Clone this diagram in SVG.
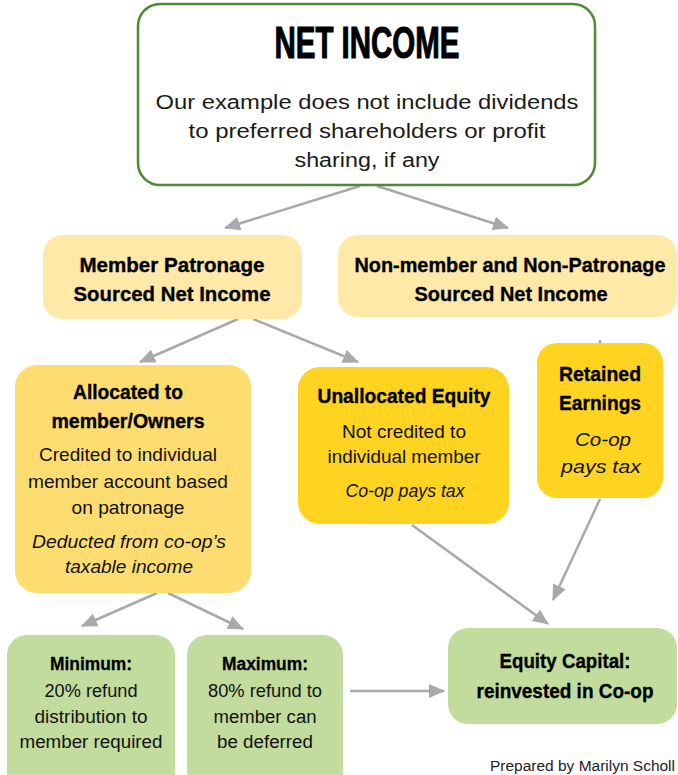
<svg xmlns="http://www.w3.org/2000/svg" width="678" height="775" viewBox="0 0 678 775">
  <defs>
    <marker id="arrowhead" viewBox="0 0 16 14" refX="15" refY="7" markerWidth="16" markerHeight="14" markerUnits="userSpaceOnUse" orient="auto">
      <path d="M0,0 L16,7 L0,14 z" fill="#a7a9ac"/>
    </marker>
    <style>
      .title { font-family: "Liberation Sans", Arial, sans-serif; font-weight: bold; font-size: 44px; fill: #000; stroke: #000; stroke-width: 1.1; }
      .lead { font-family: "Liberation Sans", Arial, sans-serif; font-size: 20px; fill: #1a1a1a; }
      .hd { font-family: "Liberation Sans", Arial, sans-serif; font-weight: bold; font-size: 21px; fill: #000; stroke: #000; stroke-width: 0.35; }
      .hd-s { font-family: "Liberation Sans", Arial, sans-serif; font-weight: bold; font-size: 18px; fill: #000; stroke: #000; stroke-width: 0.3; }
      .body { font-family: "Liberation Sans", Arial, sans-serif; font-size: 19px; fill: #111; }
      .body-s { font-family: "Liberation Sans", Arial, sans-serif; font-size: 18px; fill: #111; }
      .em { font-family: "Liberation Sans", Arial, sans-serif; font-style: italic; font-size: 19px; fill: #111; }
      .credit { font-family: "Liberation Sans", Arial, sans-serif; font-size: 14px; fill: #222; }
      .pale { fill: #fee9a8; }
      .mid { fill: #fedd70; }
      .bright { fill: #fed420; }
      .green { fill: #c1dc9c; }
      .conn line { stroke: #a7a9ac; stroke-width: 2.5; marker-end: url(#arrowhead); }
    </style>
  </defs>

  <rect width="678" height="775" fill="#ffffff"/>

  <!-- connectors -->
  <g id="connectors" class="conn">
    <line x1="360" y1="186" x2="225" y2="228"/>
    <line x1="377" y1="186" x2="508" y2="228"/>
    <line x1="238" y1="319" x2="140" y2="362"/>
    <line x1="253" y1="319" x2="358" y2="362"/>
    <line x1="157" y1="593" x2="82" y2="626"/>
    <line x1="168" y1="593" x2="243" y2="629"/>
    <line x1="350" y1="691" x2="444" y2="691"/>
    <line x1="412" y1="525" x2="548" y2="624"/>
    <line x1="600" y1="499" x2="553" y2="600"/>
    <line x1="600" y1="340" x2="600" y2="343" style="marker-end:none"/>
  </g>

  <!-- top: net income -->
  <g id="net-income">
    <rect x="138" y="4" width="457" height="181" rx="22" fill="#ffffff" stroke="#4e8a32" stroke-width="2.5"/>
    <text class="title" x="367" y="58" text-anchor="middle" textLength="185" lengthAdjust="spacingAndGlyphs">NET INCOME</text>
    <text class="lead" x="367" y="109" text-anchor="middle" textLength="423" lengthAdjust="spacingAndGlyphs">Our example does not include dividends</text>
    <text class="lead" x="367" y="138" text-anchor="middle" textLength="357" lengthAdjust="spacingAndGlyphs">to preferred shareholders or profit</text>
    <text class="lead" x="367" y="167" text-anchor="middle" textLength="145" lengthAdjust="spacingAndGlyphs">sharing, if any</text>
  </g>

  <g id="member-patronage">
    <rect class="pale" x="43" y="235" width="259" height="84" rx="20"/>
    <text class="hd" x="172" y="272" text-anchor="middle" textLength="185" lengthAdjust="spacingAndGlyphs">Member Patronage</text>
    <text class="hd" x="172" y="301" text-anchor="middle" textLength="197" lengthAdjust="spacingAndGlyphs">Sourced Net Income</text>
  </g>

  <g id="non-member">
    <rect class="pale" x="338" y="235" width="339" height="82" rx="20"/>
    <text class="hd" x="510" y="272" text-anchor="middle" style="font-size:20px" textLength="311" lengthAdjust="spacingAndGlyphs">Non-member and Non-Patronage</text>
    <text class="hd" x="511" y="301" text-anchor="middle" textLength="193" lengthAdjust="spacingAndGlyphs">Sourced Net Income</text>
  </g>

  <g id="allocated">
    <rect class="mid" x="15" y="365" width="236" height="228" rx="22"/>
    <text class="hd" x="128" y="399" text-anchor="middle" textLength="110" lengthAdjust="spacingAndGlyphs">Allocated to</text>
    <text class="hd" x="128" y="428" text-anchor="middle" textLength="153" lengthAdjust="spacingAndGlyphs">member/Owners</text>
    <text class="body" x="128" y="461" text-anchor="middle" textLength="178" lengthAdjust="spacingAndGlyphs">Credited to individual</text>
    <text class="body" x="128" y="488" text-anchor="middle" textLength="200" lengthAdjust="spacingAndGlyphs">member account based</text>
    <text class="body" x="128" y="514" text-anchor="middle" textLength="113" lengthAdjust="spacingAndGlyphs">on patronage</text>
    <text class="em" x="129" y="548" text-anchor="middle" textLength="194" lengthAdjust="spacingAndGlyphs">Deducted from co-op’s</text>
    <text class="em" x="129" y="573" text-anchor="middle" textLength="128" lengthAdjust="spacingAndGlyphs">taxable income</text>
  </g>

  <g id="unallocated">
    <rect class="bright" x="298" y="367" width="211" height="157" rx="22"/>
    <text class="hd" x="404" y="403" text-anchor="middle" textLength="173" lengthAdjust="spacingAndGlyphs">Unallocated Equity</text>
    <text class="body" x="404" y="438" text-anchor="middle" textLength="124" lengthAdjust="spacingAndGlyphs">Not credited to</text>
    <text class="body" x="404" y="463" text-anchor="middle" textLength="153" lengthAdjust="spacingAndGlyphs">individual member</text>
    <text class="em" x="405" y="497" text-anchor="middle" textLength="119" lengthAdjust="spacingAndGlyphs">Co-op pays tax</text>
  </g>

  <g id="retained">
    <rect class="bright" x="537" y="343" width="126" height="155" rx="20"/>
    <text class="hd" x="600" y="381" text-anchor="middle" textLength="82" lengthAdjust="spacingAndGlyphs">Retained</text>
    <text class="hd" x="600" y="410" text-anchor="middle" textLength="82" lengthAdjust="spacingAndGlyphs">Earnings</text>
    <text class="em" x="603" y="446" text-anchor="middle" textLength="56" lengthAdjust="spacingAndGlyphs">Co-op</text>
    <text class="em" x="601" y="473" text-anchor="middle" textLength="80" lengthAdjust="spacingAndGlyphs">pays tax</text>
  </g>

  <g id="minimum">
    <rect class="green" x="7" y="635" width="168" height="160" rx="20"/>
    <text class="hd-s" x="91" y="670" text-anchor="middle" textLength="82" lengthAdjust="spacingAndGlyphs">Minimum:</text>
    <text class="body-s" x="91" y="697" text-anchor="middle" textLength="93" lengthAdjust="spacingAndGlyphs">20% refund</text>
    <text class="body-s" x="91" y="723" text-anchor="middle" textLength="113" lengthAdjust="spacingAndGlyphs">distribution to</text>
    <text class="body-s" x="91" y="748" text-anchor="middle" textLength="143" lengthAdjust="spacingAndGlyphs">member required</text>
  </g>

  <g id="maximum">
    <rect class="green" x="187" y="635" width="156" height="160" rx="20"/>
    <text class="hd-s" x="265" y="670" text-anchor="middle" textLength="86" lengthAdjust="spacingAndGlyphs">Maximum:</text>
    <text class="body-s" x="265" y="697" text-anchor="middle" textLength="114" lengthAdjust="spacingAndGlyphs">80% refund to</text>
    <text class="body-s" x="265" y="723" text-anchor="middle" textLength="103" lengthAdjust="spacingAndGlyphs">member can</text>
    <text class="body-s" x="265" y="748" text-anchor="middle" textLength="96" lengthAdjust="spacingAndGlyphs">be deferred</text>
  </g>

  <g id="equity-capital">
    <rect class="green" x="448" y="628" width="229" height="96" rx="20"/>
    <text class="hd" x="565" y="668" text-anchor="middle" textLength="131" lengthAdjust="spacingAndGlyphs">Equity Capital:</text>
    <text class="hd" x="565" y="698" text-anchor="middle" textLength="177" lengthAdjust="spacingAndGlyphs">reinvested in Co-op</text>
  </g>

  <text class="credit" x="490" y="771" textLength="185" lengthAdjust="spacingAndGlyphs">Prepared by Marilyn Scholl</text>
</svg>
